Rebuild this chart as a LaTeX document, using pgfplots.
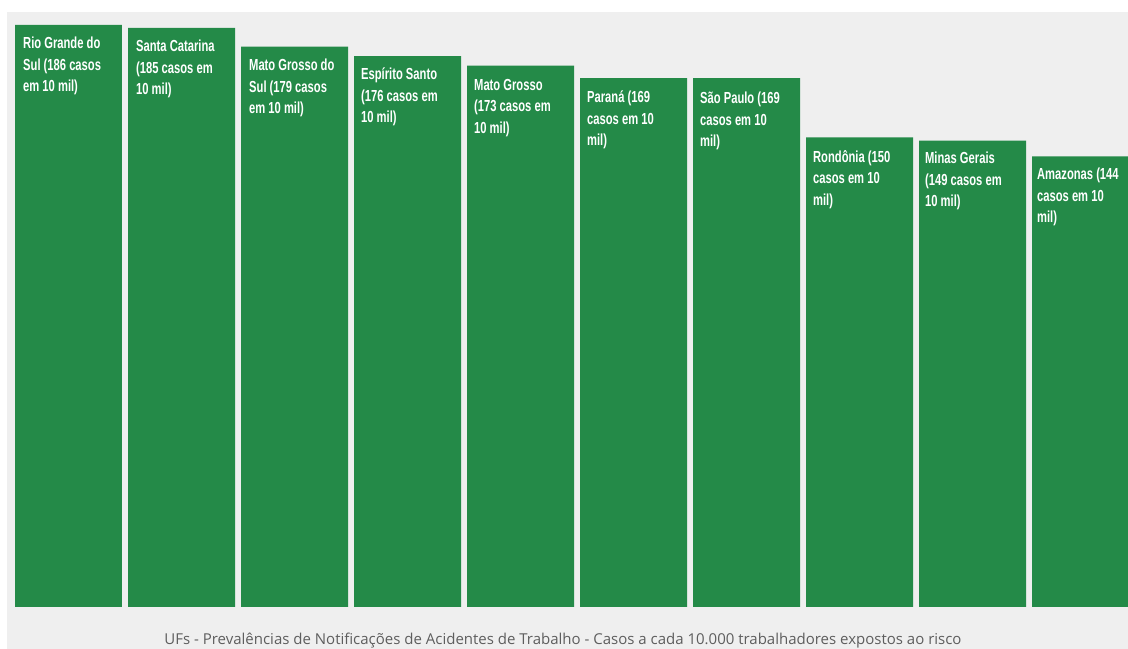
\documentclass[border=0pt]{standalone}
\usepackage{pgfplots}
\pgfplotsset{compat=1.18}
\usepackage{fontspec}
\setmainfont{Open Sans}
\newfontfamily\cond[FakeStretch=0.7]{Liberation Sans}
\definecolor{bargreen}{HTML}{248A48}
\definecolor{bggrey}{HTML}{EFEFEF}
\definecolor{captiongrey}{HTML}{5E5E5E}
\begin{document}
\begin{tikzpicture}[x=1pt,y=1pt]
\fill[white] (0,0) rectangle (1128,649);
\fill[bggrey] (7,0) rectangle (1128,637);
\begin{axis}[
  at={(0pt,0pt)}, anchor=south west,
  scale only axis, width=1128pt, height=649pt,
  xmin=-0.6062, xmax=9.3761, ymin=-13.42, ymax=193.93,
  axis lines=none, ticks=none,
  ybar, bar width=107pt, bar shift=0pt,
  clip=true,
]
\addplot[fill=bargreen, draw=none] coordinates {
(0,186) (1,185) (2,179) (3,176) (4,173) (5,169) (6,169) (7,150) (8,149) (9,144)};
\end{axis}
\begin{scope}[every node/.style={anchor=north west, text=white, font=\cond\bfseries\fontsize{16}{21.5}\selectfont, align=left, inner sep=0pt}]
\node at (23,649-37) {Rio Grande do\\Sul (186 casos\\em 10 mil)};
\node at (136,649-40) {Santa Catarina\\(185 casos em\\10 mil)};
\node at (249,649-59) {Mato Grosso do\\Sul (179 casos\\em 10 mil)};
\node at (361,649-68) {Espírito Santo\\(176 casos em\\10 mil)};
\node at (474,649-79) {Mato Grosso\\(173 casos em\\10 mil)};
\node at (587,649-91) {Paraná (169\\casos em 10\\mil)};
\node at (700,649-92) {São Paulo (169\\casos em 10\\mil)};
\node at (813,649-150) {Rondônia (150\\casos em 10\\mil)};
\node at (925,649-152) {Minas Gerais\\(149 casos em\\10 mil)};
\node at (1037,649-168) {Amazonas (144\\casos em 10\\mil)};
\end{scope}
\node[text=captiongrey, font=\fontsize{15}{16}\selectfont, anchor=base, inner sep=0pt] at (563,649-645) {UFs - Prevalências de Notificações de Acidentes de Trabalho - Casos a cada 10.000 trabalhadores expostos ao risco};
\clip (0,0) rectangle (1128,649);
\end{tikzpicture}
\end{document}
